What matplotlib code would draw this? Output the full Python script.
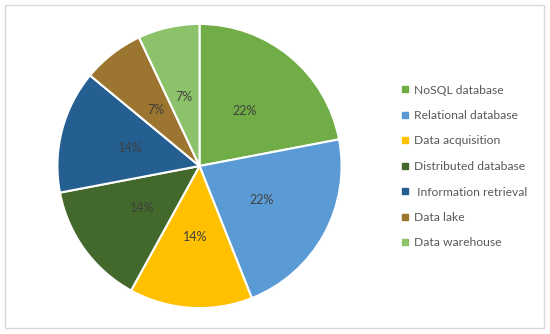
import matplotlib.pyplot as plt
from matplotlib.lines import Line2D
from matplotlib.patches import Rectangle

labels = ["NoSQL database", "Relational database", "Data acquisition",
          "Distributed database", " Information retrieval", "Data lake",
          "Data warehouse"]
shares = [22, 22, 14, 14, 14, 7, 7]
colors = ["#70AD47", "#5B9BD5", "#FFC000", "#43682B", "#255E91",
          "#9C7630", "#8CC36A"]

plt.rcParams['font.family'] = ['Lato', 'DejaVu Sans']

W, H = 550, 334
fig = plt.figure(figsize=(W / 100, H / 100), dpi=100)

# light frame around the whole chart
fig.patches.append(Rectangle((5 / W, 6 / H), 539 / W, 323 / H,
                             transform=fig.transFigure, fill=False,
                             edgecolor="#D9D9D9", linewidth=1))

cx, cy, r = 199.5, 166, 143.5
ax = fig.add_axes([(cx - r) / W, (H - cy - r) / H, 2 * r / W, 2 * r / H])
wedges, texts, autotexts = ax.pie(
    shares, colors=colors, startangle=90, counterclock=False,
    autopct=lambda p: f"{p:.0f}%", pctdistance=0.5,
    wedgeprops=dict(edgecolor="white", linewidth=1.5),
    textprops=dict(color="#404040", fontsize=9))
ax.set_xlim(-1.01, 1.01)
ax.set_ylim(-1.01, 1.01)
ax.set_aspect("equal")
ax.axis("off")

handles = [Line2D([], [], marker="s", linestyle="none", markersize=4,
                  markerfacecolor=c, markeredgecolor=c) for c in colors]
fig.legend(handles, labels, loc="center left",
           bbox_to_anchor=(395 / W, 1 - 166.5 / H), frameon=False,
           fontsize=8.7, labelcolor="#595959", labelspacing=1.2,
           handlelength=0.6, handletextpad=0.45, borderpad=0)

fig.savefig("out.png", dpi=100, facecolor="white")
